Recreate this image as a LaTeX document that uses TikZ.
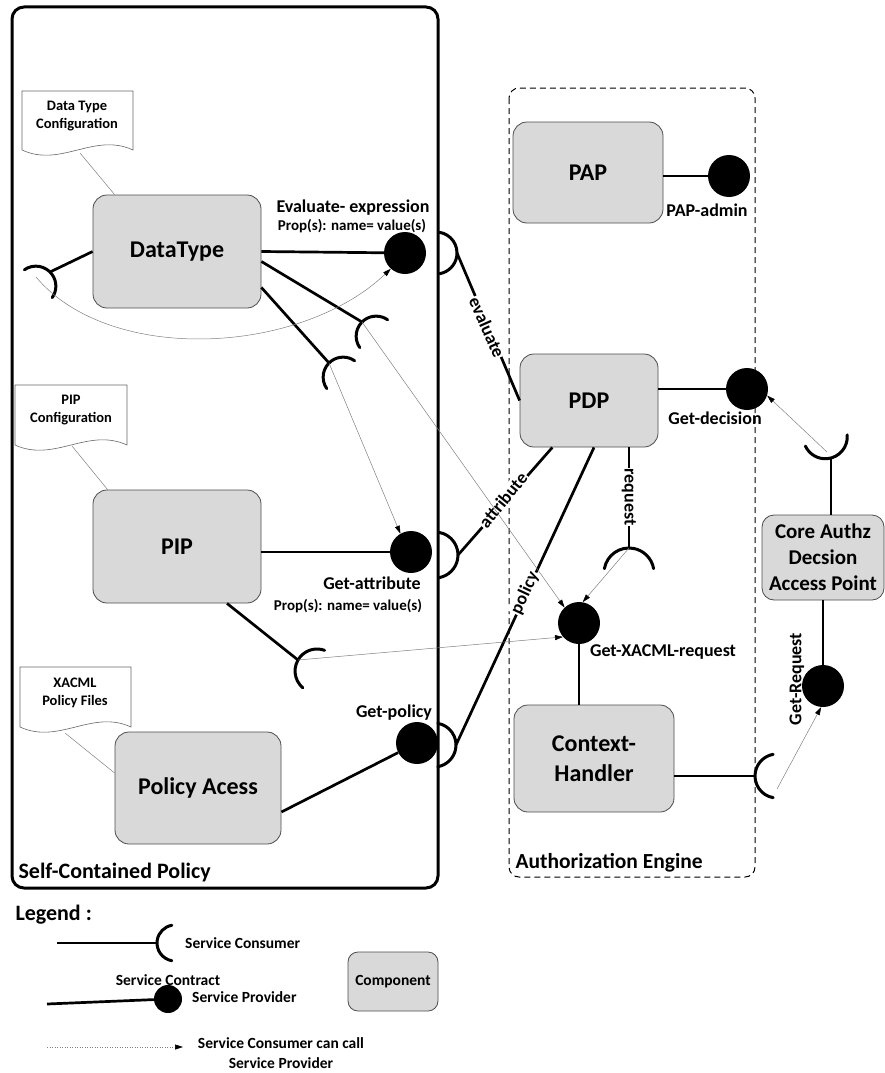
\documentclass[tikz,border=0pt]{standalone}
\usepackage{fontspec}
\setmainfont{Carlito}
\usepackage{tikz}
\usetikzlibrary{calc,arrows.meta}
\definecolor{compgray}{HTML}{D9D9D9}

\tikzset{
  comp/.style={draw=black!70, fill=compgray, rounded corners=14pt, line width=0.8pt, align=center, font=\fontsize{24}{29}\selectfont\bfseries},
  ball/.style={circle, fill=black, inner sep=0pt, minimum size=42pt},
  conn/.style={line width=2.7pt},
  sockline/.style={line width=3pt, line cap=round},
  call/.style={gray, line width=0.5pt, -{Triangle[length=8pt,width=5pt,color=black]}},
  lbl/.style={inner sep=1pt, font=\fontsize{18}{20}\selectfont\bfseries},
  prop/.style={inner sep=1pt, font=\fontsize{15}{17}\selectfont\bfseries},
  onlbl/.style={lbl, fill=white},
  leg/.style={inner sep=1pt, font=\fontsize{15.5}{20}\selectfont\bfseries},
  title/.style={anchor=west, font=\fontsize{22}{26}\selectfont\bfseries},
  doc/.style={draw=black!60, line width=0.6pt, fill=white},
  doctxt/.style={align=center, font=\fontsize{14.5}{18}\selectfont\bfseries},
  docline/.style={draw=black!50, line width=0.5pt},
}

% socket: point, direction, radius
\newcommand{\socketarc}[3]{\draw[sockline] ($(#1)+(#2:#3)$) ++(#2+100:#3) arc[start angle=#2+100, end angle=#2+260, radius=#3];}
% document with wavy bottom: x1 y1 x2 y2
\newcommand{\docshape}[4]{\draw[doc] (#1,#4) -- (#1,#2) -- (#3,#2) -- (#3,#4) .. controls ({#3-0.35*(#3-#1)},{#4-18}) and ({#1+0.35*(#3-#1)},{#4+18}) .. (#1,#4);}

\begin{document}
\begin{tikzpicture}[x=1pt,y=-1pt]
\useasboundingbox (0,0) rectangle (885,1073);

% containers
\draw[line width=3pt, rounded corners=12pt] (12,7) rectangle (438,888);
\draw[black, dash pattern=on 6pt off 4pt, line width=1pt, rounded corners=10pt] (509,88) rectangle (755,877);
\node[title] (scp) at (15,873) {Self-Contained Policy};
\node[title, font=\fontsize{21.5}{26}\selectfont\bfseries] (aeng) at (512,863) {Authorization Engine};

% configuration documents
\docshape{22}{91}{133}{150}
\docshape{15}{385}{127}{445}
\docshape{20}{667}{131}{727}
\node[doctxt] (dtcfg) at (77,116) {Data Type\\Configuration};
\node[doctxt] (pipcfg) at (71,410) {PIP\\Configuration};
\node[doctxt] (xcfg) at (75,693) {XACML\\Policy Files};
\coordinate (dtcfgb) at (80,153);
\coordinate (pipcfgb) at (72,446);
\coordinate (xcfgb) at (65,733);

% components
\node[comp, minimum width=168pt, minimum height=113pt] (dtype) at (177,251.5) {DataType};
\node[comp, minimum width=168pt, minimum height=113pt] (pip) at (177,546.5) {PIP};
\node[comp, minimum width=166pt, minimum height=112pt] (polacc) at (198,788) {Policy Acess};
\node[comp, minimum width=150pt, minimum height=101pt] (pap) at (588,172.5) {PAP};
\node[comp, minimum width=138pt, minimum height=93pt] (pdp) at (589,400.5) {PDP};
\node[comp, minimum width=160pt, minimum height=107pt, font=\fontsize{24}{30}\selectfont\bfseries] (ctx) at (594,758.5) {Context-\\Handler};
\node[comp, minimum width=122pt, minimum height=85pt, rounded corners=12pt, inner sep=1pt, font=\fontsize{21}{26}\selectfont\bfseries] (core) at (823,557.5) {Core Authz\\Decsion\\Access Point};

\draw[docline] (dtcfgb) -- ($(dtype.north west)+(22,0)$);
\draw[docline] (pipcfgb) -- ($(pip.north west)+(15,0)$);
\draw[docline] (xcfgb) -- ($(polacc.west)+(0,-15)$);

% providers
\node[ball] (evalball) at (405,253) {};
\node[ball] (attrball) at (411,552) {};
\node[ball] (polball) at (417,743) {};
\node[ball] (papball) at (729,176) {};
\node[ball] (decball) at (747,389) {};
\node[ball] (xacmlball) at (579,623) {};
\node[ball] (reqball) at (823,686) {};

% consumers
\coordinate (evalsock) at (457,253);
\coordinate (attrsock) at (458,555);
\coordinate (polsock) at (456,745);
\coordinate (reqsock) at (629,548);
\coordinate (ctxsock) at (755,776);
\coordinate (coresock) at (831,458);
\coordinate (dtsockA) at (362,322);
\coordinate (dtsockB) at (329,363);
\coordinate (dtsockL) at (50,272);
\coordinate (pipsock) at (298,660);

\draw[conn] (dtype.east) -- (evalball);
\draw[conn] (attrball -| pip.east) -- (attrball);
\draw[conn] ($(polacc.east)+(0,24)$) -- (polball);
\draw[conn] (papball -| pap.east) -- (papball);
\draw[conn] (decball -| pdp.east) -- (decball);
\draw[conn] (xacmlball) -- (xacmlball |- ctx.north);
\draw[conn] (core.south) -- (reqball);
\draw[conn] (coresock |- core.north) -- (coresock);
\draw[conn] (ctxsock -| ctx.east) -- (ctxsock);
\draw[conn] (reqsock |- pdp.south) -- (reqsock);
\draw[conn] (evalsock) -- (pdp.west);
\draw[conn] (pdp.232) -- (attrsock);
\draw[conn] ([xshift=5pt]pdp.south) -- (polsock);
\draw[conn] ($(dtype.east)+(0,10)$) -- (dtsockA);
\draw[conn] ($(dtype.east)+(0,36)$) -- (dtsockB);
\draw[conn] (dtype.west) -- (dtsockL);
\draw[conn] ($(pip.south)+(50,0)$) -- (pipsock);

\socketarc{evalsock}{180}{21}
\socketarc{attrsock}{180}{23}
\socketarc{polsock}{180}{22}
\socketarc{reqsock}{90}{25}
\socketarc{ctxsock}{0}{22}
\socketarc{coresock}{-105}{22}
\socketarc{dtsockA}{45}{20}
\socketarc{dtsockB}{45}{20}
\socketarc{dtsockL}{135}{20}
\socketarc{pipsock}{30}{22}

% labels
\node[onlbl, rotate=-66] (evallbl) at (487,327) {evaluate};
\node[onlbl, rotate=51] (attrlbl) at (503,500) {attribute};
\node[onlbl, rotate=65] (pollbl) at (525,593) {policy};
\node[onlbl, rotate=-90] (reqlbl) at (629,497) {request};
\node[lbl, rotate=90] (getreqlbl) at (797,679) {Get-Request};
\node[lbl] (evalname) at (353,208) {Evaluate- expression};
\node[prop] (evalprop) at (352,226) {Prop(s): name= value(s)};
\node[lbl] (attrname) at (372,583) {Get-attribute};
\node[prop] (attrprop) at (348,606) {Prop(s): name= value(s)};
\node[lbl] (polname) at (394,713) {Get-policy};
\node[lbl] (papname) at (707,210) {PAP-admin};
\node[lbl] (decname) at (715,418) {Get-decision};
\node[lbl] (xacmlname) at (663,652) {Get-XACML-request};

% consumer can call provider
\draw[call] ($(dtsockL)+(-14,5)$) .. controls (110,365) and (300,355) .. (evalball.228);
\draw[call] (dtsockA) -- (xacmlball.133);
\draw[call] (dtsockB) -- (attrball.120);
\draw[call] (pipsock) -- (xacmlball.221);
\draw[call] (reqsock) -- (xacmlball.80);
\draw[call] ($(coresock)+(-4,-6)$) -- (decball.-18);
\draw[call] ($(ctxsock)+(22,13)$) -- (reqball.-95);

% legend
\node[title] (legend) at (12,915) {Legend :};
\coordinate (legconsA) at (57,943);
\coordinate (legcons) at (157,943);
\draw[conn] (legconsA) -- (legcons);
\socketarc{legcons}{0}{18}
\node[leg, anchor=west] (legconsname) at (184,943) {Service Consumer};
\coordinate (legprovA) at (47,1004);
\node[ball, minimum size=28pt] (legball) at (168,999) {};
\draw[conn] (legprovA) -- (legball);
\node[leg] (legcontract) at (168,980) {Service Contract};
\node[leg, anchor=west] (legprovname) at (191,997) {Service Provider};
\coordinate (legcallA) at (47,1047);
\coordinate (legcallB) at (183,1047);
\draw[call, dotted] (legcallA) -- (legcallB);
\node[leg, align=center] (legcallname) at (281,1053) {Service Consumer can call\\Service Provider};
\node[comp, minimum width=90pt, minimum height=59pt, rounded corners=10pt, font=\fontsize{15.5}{18}\selectfont\bfseries] (legcomp) at (393,981.5) {Component};
\end{tikzpicture}
\end{document}
